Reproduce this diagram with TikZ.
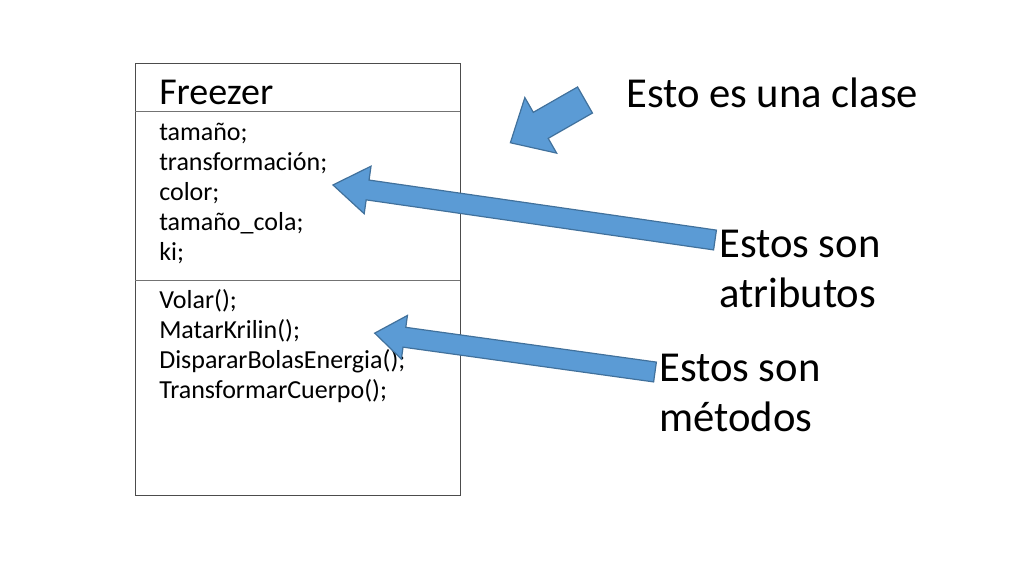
\documentclass[tikz,border=0pt]{standalone}
\usepackage{fontspec}
\setmainfont{Carlito}
\begin{document}
\begin{tikzpicture}[x=0.75pt,y=-0.75pt,
  blk/.style={fill=white,draw=black!70,line width=0.6pt},
  divl/.style={draw=black!55,line width=0.5pt},
  barrow/.style={fill={rgb,255:red,91;green,155;blue,213},draw={rgb,255:red,65;green,113;blue,156},line width=0.9pt,line join=miter},
  big/.style={anchor=west,inner sep=0pt,font=\fontsize{32}{37.5}\selectfont,align=left},
  small/.style={anchor=west,inner sep=0pt,font=\fontsize{19.5}{22.5}\selectfont,align=left}]
\useasboundingbox (0,0) rectangle (1024,576);
\draw[blk] (135,63) rectangle (460,495);
\draw[divl] (135,111) -- (460,111);
\draw[divl] (135,280) -- (460,280);
\node[anchor=west,inner sep=0pt,font=\fontsize{28.5}{30}\selectfont] (title) at (159,92) {Freezer};
\node[small,anchor=north west] (attrs) at (159,123) {tamaño;\\transformación;\\color;\\tamaño\_cola;\\ki;};
\node[small,anchor=north west] (meths) at (159,289) {Volar();\\MatarKrilin();\\DispararBolasEnergia();\\TransformarCuerpo();};
% arrows
\begin{scope}[shift={(585,100)},rotate=209.8]
\draw[barrow] (0,-15) -- (51,-15) -- (51,-32) -- (86,0) -- (51,32) -- (51,15) -- (0,15) -- cycle;
\end{scope}
\begin{scope}[shift={(715,240)},rotate=171.8]
\draw[barrow] (0,-10) -- (351,-10) -- (351,-24) -- (386,0) -- (351,24) -- (351,10) -- (0,10) -- cycle;
\end{scope}
\begin{scope}[shift={(655,372)},rotate=172.1]
\draw[barrow] (0,-10) -- (253,-10) -- (253,-22) -- (283,0) -- (253,22) -- (253,10) -- (0,10) -- cycle;
\end{scope}
\node[big] (clase) at (626,93) {Esto es una clase};
\node[big,anchor=north west] (atr) at (719,230) {Estos son\\atributos};
\node[big,anchor=north west] (met) at (659,354) {Estos son\\métodos};
\end{tikzpicture}
\end{document}
